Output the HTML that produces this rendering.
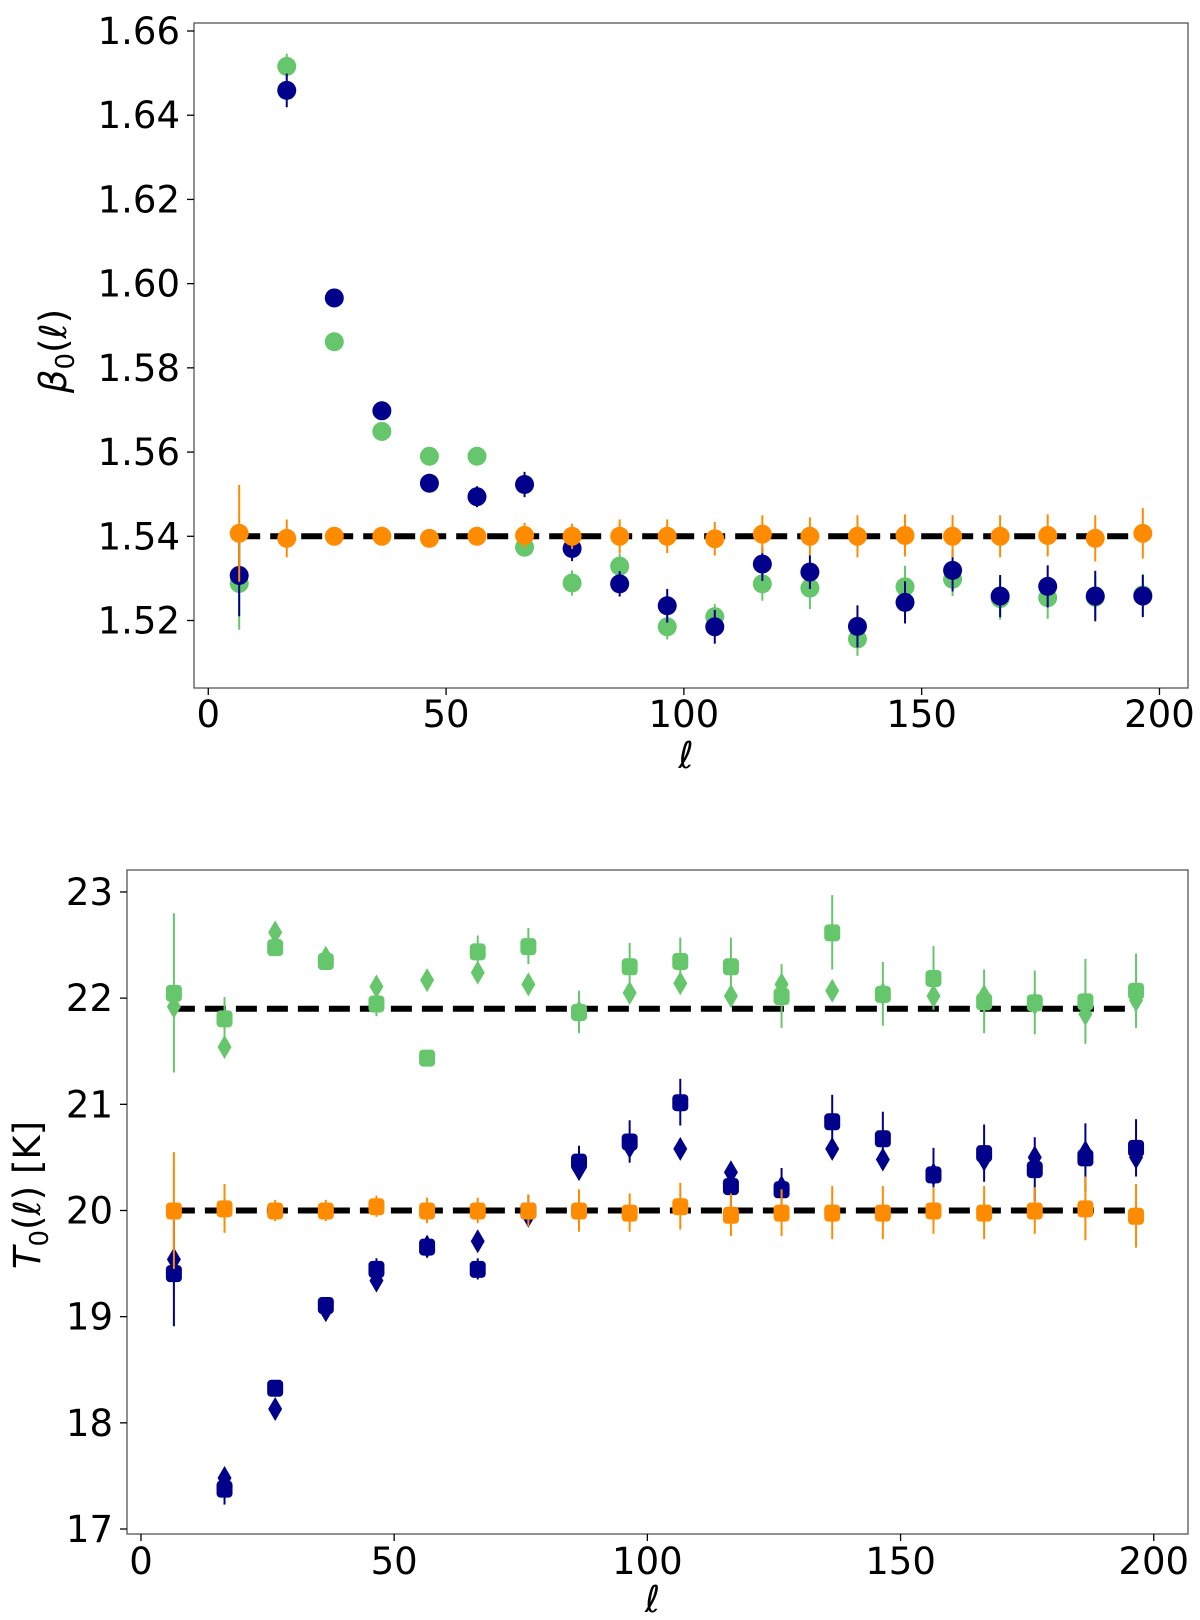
<!DOCTYPE html>
<html><head><meta charset="utf-8"><style>
html,body{margin:0;padding:0;background:#fff;}
svg{display:block;font-family:"DejaVu Sans","Liberation Sans",sans-serif;}
</style></head><body>
<svg id="fig" width="1200" height="1620" viewBox="0 0 1200 1620" xmlns="http://www.w3.org/2000/svg">
<g id="topPanel"></g>
<g id="botPanel"></g>
</svg>
<script>
const ells = [6.5,16.5,26.5,36.5,46.5,56.5,66.5,76.5,86.5,96.5,106.5,116.5,126.5,136.5,146.5,156.5,166.5,176.5,186.5,196.5];
const xTicks = [0,50,100,150,200];
// top panel
const betaTicks = [1.52,1.54,1.56,1.58,1.60,1.62,1.64,1.66];
const betaGreen = [1.5288,1.6516,1.5862,1.5649,1.559,1.559,1.5374,1.5289,1.5329,1.5185,1.5209,1.5287,1.5277,1.5156,1.528,1.5298,1.5252,1.5254,1.5255,1.5261];
const betaGreenErr = [0.011,0.003,0.002,0.002,0.002,0.002,0.002,0.003,0.003,0.003,0.003,0.004,0.005,0.004,0.005,0.004,0.005,0.005,0.005,0.005];
const betaBlue = [1.5307,1.6459,1.5966,1.5698,1.5526,1.5494,1.5523,1.5371,1.5287,1.5235,1.5185,1.5334,1.5315,1.5186,1.5243,1.5319,1.5258,1.5281,1.5258,1.5258];
const betaBlueErr = [0.0097,0.004,0.002,0.002,0.002,0.0025,0.003,0.003,0.003,0.004,0.004,0.004,0.004,0.005,0.005,0.005,0.005,0.005,0.006,0.005];
const betaOrange = [1.5407,1.5395,1.54,1.54,1.5395,1.54,1.5402,1.54,1.54,1.54,1.5394,1.5405,1.54,1.54,1.5402,1.54,1.54,1.5402,1.5395,1.5407];
const betaOrangeErr = [0.0115,0.0045,0.002,0.002,0.002,0.002,0.003,0.003,0.004,0.004,0.004,0.0045,0.0045,0.005,0.005,0.005,0.005,0.005,0.0055,0.006];
const betaTrue = [1.54];
// bottom panel
const tTicks = [17,18,19,20,21,22,23];
const tGreen = [22.05,21.81,22.48,22.35,21.95,21.44,22.44,22.49,21.87,22.3,22.35,22.3,22.02,22.62,22.04,22.19,21.97,21.96,21.97,22.07];
const tGreenAlt = [21.92,21.54,22.62,22.38,22.11,22.17,22.24,22.13,21.87,22.05,22.14,22.02,22.13,22.07,22.04,22.02,22.02,21.95,21.85,21.98];
const tGreenErr = [0.75,0.2,0.08,0.08,0.12,0.07,0.15,0.17,0.2,0.22,0.22,0.27,0.3,0.35,0.3,0.3,0.3,0.3,0.4,0.35];
const tBlue = [19.41,17.38,18.33,19.11,19.45,19.66,19.45,20.0,20.46,20.65,21.02,20.23,20.2,20.84,20.68,20.34,20.54,20.39,20.5,20.59];
const tBlueAlt = [19.54,17.48,18.13,19.06,19.34,19.66,19.71,19.95,20.39,20.6,20.58,20.36,20.22,20.58,20.48,20.34,20.48,20.5,20.55,20.5];
const tBlueErr = [0.5,0.15,0.05,0.05,0.1,0.1,0.1,0.15,0.15,0.2,0.22,0.2,0.2,0.25,0.25,0.25,0.27,0.3,0.32,0.27];
const tOrange = [20.0,20.02,20.0,20.0,20.04,20.0,20.0,20.0,20.0,19.98,20.04,19.96,19.98,19.98,19.98,20.0,19.98,20.0,20.02,19.95];
const tOrangeErr = [0.55,0.23,0.1,0.1,0.1,0.12,0.12,0.15,0.2,0.18,0.22,0.2,0.22,0.25,0.25,0.22,0.25,0.22,0.3,0.3];
const tTrue = [21.9,20.0];

const NS='http://www.w3.org/2000/svg';
const GREEN='#66c66b', BLUE='#00008b', ORANGE='#ff8c00';
function mk(parent,tag,attrs,text){const e=document.createElementNS(NS,tag);for(const k in attrs)e.setAttribute(k,attrs[k]);if(text!==undefined)e.textContent=text;parent.appendChild(e);return e;}

function panel(g,box,xr,yr,yTicks,yFmt,yLabelHTML,ylx,yly,xlabY,xtY){
  const sx=v=>box.l+(v-xr[0])/(xr[1]-xr[0])*(box.r-box.l);
  const sy=v=>box.b-(v-yr[0])/(yr[1]-yr[0])*(box.b-box.t);
  const frame=mk(g,'rect',{x:box.l,y:box.t,width:box.r-box.l,height:box.b-box.t,fill:'none',stroke:'#555','stroke-width':1.3});
  
  
  xTicks.forEach(t=>{
    const x=sx(t);
    const tk=mk(g,'line',{x1:x,x2:x,y1:box.b,y2:box.b+7,stroke:'#000','stroke-width':1.3});
    
    
    const lb=mk(g,'text',{x:x,y:xtY,'font-size':37,'text-anchor':'middle'},String(t));
    
    
  });
  yTicks.forEach(t=>{
    const y=sy(t);
    const tk=mk(g,'line',{x1:box.l-7,x2:box.l,y1:y,y2:y,stroke:'#000','stroke-width':1.3});
    
    
    const lb=mk(g,'text',{x:box.l-14,y:y+13,'font-size':37,'text-anchor':'end'},yFmt(t));
    
    
  });
  const xl=mk(g,'text',{x:(box.l+box.r)/2-5,y:xlabY,'font-size':37,'font-style':'italic','text-anchor':'middle'},'ℓ');
  
  
  const yl=mk(g,'text',{x:ylx,y:yly,'font-size':37,'text-anchor':'middle',transform:`rotate(-90 ${ylx} ${yly})`});
  yl.innerHTML=yLabelHTML;
  
  
  return {sx,sy};
}
function hline(g,s,v){
  const l=mk(g,'line',{x1:s.sx(ells[0]),x2:s.sx(ells[ells.length-1]),y1:s.sy(v),y2:s.sy(v),stroke:'#000','stroke-width':6,'stroke-dasharray':'21 10'});
  
  
}
function err(g,s,vals,errs,color,name){
  vals.forEach((v,i)=>{
    const x=s.sx(ells[i]);
    const e=mk(g,'line',{x1:x,x2:x,y1:s.sy(v-errs[i]),y2:s.sy(v+errs[i]),stroke:color,'stroke-width':2});
    
    
  });
}
function circles(g,s,vals,color,name,r){
  vals.forEach((v,i)=>{
    const c=mk(g,'ellipse',{cx:s.sx(ells[i]),cy:s.sy(v),rx:r,ry:r,fill:color});
    
    
  });
}
function squares(g,s,vals,color,name){
  vals.forEach((v,i)=>{
    const x=s.sx(ells[i]),y=s.sy(v);
    const c=mk(g,'rect',{x:x-8,y:y-8,width:16,height:17,rx:4,fill:color});
    
    
  });
}
function diamonds(g,s,vals,color,name){
  vals.forEach((v,i)=>{
    const x=s.sx(ells[i]),y=s.sy(v);
    const c=mk(g,'polygon',{points:`${x},${y-12} ${x+7},${y} ${x},${y+12} ${x-7},${y}`,fill:color});
    
    
  });
}

const topG=document.getElementById('topPanel');
const s1=panel(topG,{l:194,r:1188,t:23,b:688},[-3,206],[1.50397,1.6619],betaTicks,t=>t.toFixed(2),
  '<tspan font-style="italic">β</tspan><tspan font-size="26" dy="8">0</tspan><tspan dy="-8">(</tspan><tspan font-style="italic">ℓ</tspan>)',66,351,768,727);
hline(topG,s1,betaTrue[0]);
err(topG,s1,betaGreen,betaGreenErr,GREEN,'beta-green');
circles(topG,s1,betaGreen,GREEN,'beta-green',9.5);
err(topG,s1,betaBlue,betaBlueErr,BLUE,'beta-blue');
circles(topG,s1,betaBlue,BLUE,'beta-blue',9.5);
err(topG,s1,betaOrange,betaOrangeErr,ORANGE,'beta-orange');
circles(topG,s1,betaOrange,ORANGE,'beta-orange',9.5);

const botG=document.getElementById('botPanel');
const s2=panel(botG,{l:127,r:1188,t:870,b:1534},[-2.76,206.76],[16.953,23.207],tTicks,t=>String(t),
  '<tspan font-style="italic">T</tspan><tspan font-size="26" dy="8">0</tspan><tspan dy="-8">(</tspan><tspan font-style="italic">ℓ</tspan>) [K]',40,1195,1612,1574);
hline(botG,s2,tTrue[0]);
hline(botG,s2,tTrue[1]);
err(botG,s2,tGreen,tGreenErr,GREEN,'t-green');
squares(botG,s2,tGreen,GREEN,'t-green');
diamonds(botG,s2,tGreenAlt,GREEN,'t-green-alt');
err(botG,s2,tBlue,tBlueErr,BLUE,'t-blue');
squares(botG,s2,tBlue,BLUE,'t-blue');
diamonds(botG,s2,tBlueAlt,BLUE,'t-blue-alt');
err(botG,s2,tOrange,tOrangeErr,ORANGE,'t-orange');
squares(botG,s2,tOrange,ORANGE,'t-orange');
</script>
</body></html>
